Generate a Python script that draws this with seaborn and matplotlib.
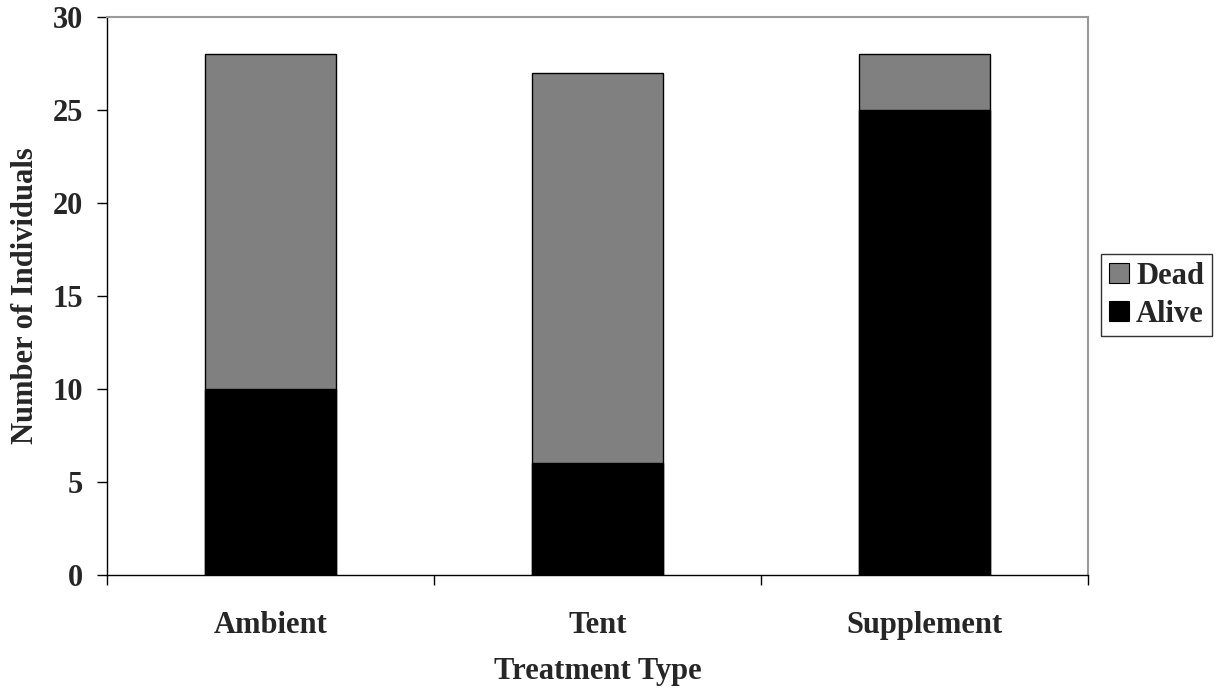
import matplotlib
matplotlib.use("Agg")
import matplotlib.pyplot as plt
from matplotlib.patches import Patch
from matplotlib.ticker import FixedLocator
import seaborn as sns
import pandas as pd

treatments = ["Ambient", "Tent", "Supplement"]
alive = [10, 6, 25]
dead = [18, 21, 3]
y_ticks = [0, 5, 10, 15, 20, 25, 30]

sns.set_theme(style="white")
plt.rcParams["font.family"] = ["Liberation Serif", "DejaVu Serif"]
plt.rcParams["font.weight"] = "bold"

FS = 22

df = pd.DataFrame({
    "Treatment": treatments,
    "Alive": alive,
    "Dead": dead,
})
df["Total"] = df["Alive"] + df["Dead"]

fig = plt.figure(figsize=(12.16, 6.91), dpi=100)
ax = fig.add_axes([107 / 1216, 1 - 575 / 691, (1088 - 107) / 1216, (575 - 17) / 691])

# Stacked bars: full height in grey (Dead on top), Alive portion in black
sns.barplot(data=df, x="Treatment", y="Total", color="#808080", width=0.4,
            edgecolor="black", linewidth=1.0, saturation=1, ax=ax)
sns.barplot(data=df, x="Treatment", y="Alive", color="#000000", width=0.4,
            edgecolor="black", linewidth=1.0, saturation=1, ax=ax)

ax.set_xlim(-0.5, 2.5)
ax.set_ylim(0, 30)
ax.set_yticks(y_ticks)
ax.set_yticklabels([str(v) for v in y_ticks], fontsize=FS, fontweight="bold")

ax.set_xticks(range(len(treatments)))
ax.set_xticklabels(treatments, fontsize=FS, fontweight="bold")
ax.xaxis.set_minor_locator(FixedLocator([-0.5, 0.5, 1.5, 2.5]))
ax.tick_params(axis="x", which="major", length=0, pad=26)
ax.tick_params(axis="x", which="minor", length=7, width=1, color="black", direction="out", bottom=True)
ax.tick_params(axis="y", which="major", length=7, width=1, color="black", direction="out", left=True, pad=10.5)

ax.set_xlabel("Treatment Type", fontsize=FS, fontweight="bold", labelpad=12)
ax.set_ylabel("Number of Individuals", fontsize=FS, fontweight="bold", labelpad=9)

for side in ["left", "bottom"]:
    ax.spines[side].set_color("black")
    ax.spines[side].set_linewidth(1.0)
for side in ["top", "right"]:
    ax.spines[side].set_visible(True)
    ax.spines[side].set_color("#999999")
    ax.spines[side].set_linewidth(1.5)
ax.grid(False)

handles = [Patch(facecolor="#808080", edgecolor="black", linewidth=0.8, label="Dead"),
           Patch(facecolor="#000000", edgecolor="black", linewidth=0.8, label="Alive")]
leg = fig.legend(handles=handles, loc="upper left",
                 bbox_to_anchor=(1101 / 1216, 1 - 254 / 691),
                 frameon=True, fancybox=False, edgecolor="black",
                 handlelength=0.65, handleheight=0.65, handletextpad=0.25,
                 borderpad=0.25, labelspacing=0.3, borderaxespad=0,
                 prop={"family": "Liberation Serif", "weight": "bold", "size": FS})
leg.get_frame().set_linewidth(1.0)

fig.savefig("out.png", dpi=100, facecolor="white")
